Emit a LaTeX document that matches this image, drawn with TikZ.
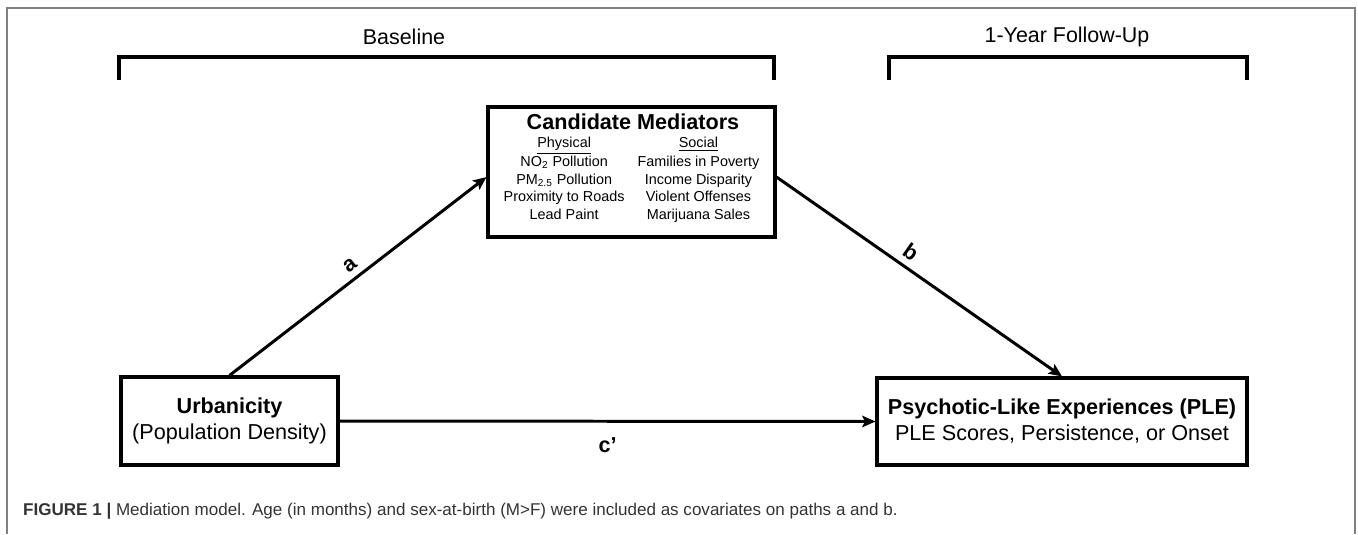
\documentclass[tikz,border=0pt]{standalone}
\usepackage{fontspec}
\setmainfont{Liberation Sans}
\usetikzlibrary{arrows.meta}

\begin{document}
\begin{tikzpicture}[x=0.02cm, y=-0.02cm, >={Stealth[length=7.5pt, width=6.5pt, inset=1.5pt]},
  varbox/.style={draw, line width=1.8pt, inner sep=0pt, align=center,
    font=\fontsize{12.3}{14.8}\selectfont},
  pathline/.style={->, line width=1.7pt},
  pathlabel/.style={font=\bfseries\fontsize{12.3}{14}\selectfont},
  bracket/.style={line width=1.9pt},
  timelabel/.style={font=\fontsize{12.2}{14}\selectfont}]
  \useasboundingbox (0,0) rectangle (1358,534);

  % page frame
  \draw[gray, line width=1.1pt] (7,534) -- (7,8) -- (1355,8) -- (1355,534);

  % time points
  \draw[bracket] (119,80) -- (119,57) -- (774,57) -- (774,80);
  \draw[bracket] (889,80) -- (889,57) -- (1247,57) -- (1247,80);
  \node[timelabel] (baseline) at (404,37) {Baseline};
  \node[timelabel] (followup) at (1067,37) {1-Year Follow-Up};

  % variables
  \node[varbox, minimum width=5.74cm, minimum height=2.6cm] (cm) at (631.5,172) {};
  \node[font=\bfseries\fontsize{12.3}{14}\selectfont] (cmtitle) at (633,122) {Candidate Mediators};
  \node[font=\fontsize{8.2}{10}\selectfont, inner sep=0pt, anchor=north] (cmitems) at (631.5,135)
    {\begin{tabular}{@{}c@{\hspace{7.4pt}}c@{}}
      \underline{Physical} & \underline{Social}\\
      NO\textsubscript{2} Pollution & Families in Poverty\\
      PM\textsubscript{2.5} Pollution & Income Disparity\\
      Proximity to Roads & Violent Offenses\\
      Lead Paint & Marijuana Sales
    \end{tabular}};
  \node[varbox, minimum width=4.34cm, minimum height=1.76cm] (urb) at (229.5,421)
    {\textbf{Urbanicity}\\(Population Density)};
  \node[varbox, minimum width=7.4cm, minimum height=1.74cm] (ple) at (1062,421.5)
    {\textbf{Psychotic-Like Experiences (PLE)}\\PLE Scores, Persistence, or Onset};

  % paths
  \draw[pathline] (urb.north) -- (cm.182) node[pathlabel, midway, sloped, above] {a};
  \draw[pathline] (cm.358) -- (ple.north) node[pathlabel, pos=0.44, sloped, above] {b};
  \draw[pathline] (urb.east) -- (ple.west) node[pathlabel, midway, below=5pt] {c’};

  % caption
  \node[anchor=west, font=\fontsize{9.7}{12}\selectfont, text=black!80] (caption) at (17,511)
    {\textbf{FIGURE 1 |} Mediation model. Age (in months) and sex-at-birth (M>F) were included as covariates on paths a and b.};
\end{tikzpicture}
\end{document}
